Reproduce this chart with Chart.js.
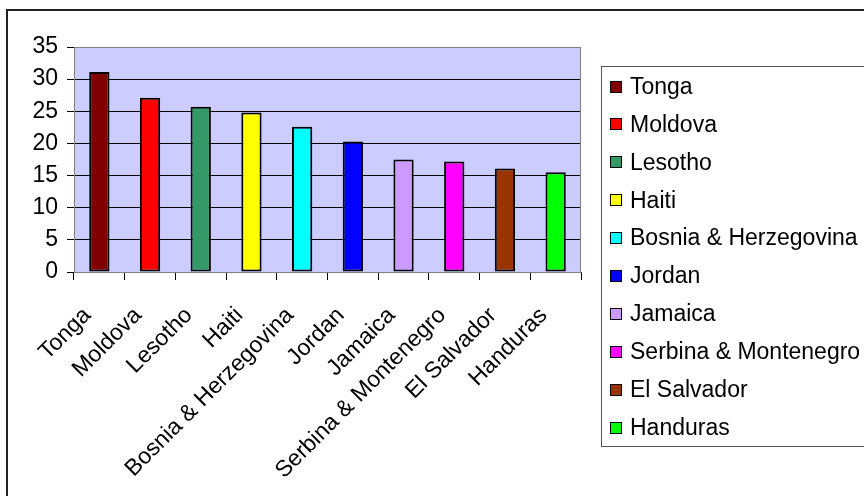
<!DOCTYPE html>
<html>
<head>
<meta charset="utf-8">
<script src="https://cdn.jsdelivr.net/npm/chart.js@4/dist/chart.umd.min.js"></script>
<style>
  html, body { margin: 0; padding: 0; background: #ffffff; }
  #wrap { width: 864px; height: 496px; position: relative; }
</style>
</head>
<body>
<div id="wrap"><canvas id="chart" width="864" height="496"></canvas></div>
<script>
// Countries and their values
const categories = ['Tonga', 'Moldova', 'Lesotho', 'Haiti', 'Bosnia & Herzegovina',
  'Jordan', 'Jamaica', 'Serbina & Montenegro', 'El Salvador', 'Handuras'];
const values = [31.1, 27.1, 25.7, 24.8, 22.6, 20.3, 17.5, 17.2, 16.1, 15.5];
const barColors = ['#800000', '#FF0000', '#339966', '#FFFF00', '#00FFFF',
  '#0000FF', '#CC99FF', '#FF00FF', '#993300', '#00FF00'];
const yTicks = [0, 5, 10, 15, 20, 25, 30, 35];

const FONT = "'Liberation Sans', Arial, sans-serif";
const FONT_SIZE = 23;

// Plot background, plot border, outer frame and the category legend
const decorations = {
  id: 'decorations',
  beforeDraw(chart) {
    const { ctx, chartArea: a } = chart;
    ctx.save();
    ctx.fillStyle = '#ffffff';
    ctx.fillRect(0, 0, chart.width, chart.height);
    ctx.fillStyle = '#CCCCFF';
    ctx.fillRect(a.left, a.top, a.right - a.left, a.bottom - a.top);
    ctx.restore();
  },
  afterDraw(chart) {
    const { ctx, chartArea: a } = chart;
    ctx.save();
    // plot area border
    ctx.strokeStyle = '#808080';
    ctx.lineWidth = 1;
    ctx.strokeRect(a.left + 0.5, a.top + 0.5, a.right - a.left - 1, a.bottom - a.top);
    // outer chart frame
    ctx.strokeStyle = '#222222';
    ctx.lineWidth = 2;
    ctx.strokeRect(7, 10, 900, 600);
    // legend box
    ctx.strokeStyle = '#555555';
    ctx.lineWidth = 1;
    ctx.strokeRect(601.5, 66.5, 300, 380);
    ctx.font = FONT_SIZE + 'px ' + FONT;
    ctx.textBaseline = 'middle';
    ctx.textAlign = 'left';
    categories.forEach((name, i) => {
      const cy = 86.5 + i * 37.9;
      ctx.fillStyle = barColors[i];
      ctx.fillRect(610, Math.round(cy - 6), 12, 12);
      ctx.strokeStyle = '#000000';
      ctx.strokeRect(610.5, Math.round(cy - 6) + 0.5, 11, 11);
      ctx.fillStyle = '#000000';
      ctx.fillText(name, 630, cy + 1);
    });
    ctx.restore();
  }
};

new Chart(document.getElementById('chart'), {
  type: 'bar',
  data: {
    labels: categories,
    datasets: [{
      data: values,
      backgroundColor: barColors,
      borderColor: '#000000',
      borderWidth: 2,
      borderSkipped: false,
      barPercentage: 0.4,
      categoryPercentage: 1.0
    }]
  },
  options: {
    responsive: false,
    animation: false,
    devicePixelRatio: 1,
    layout: { padding: { top: 47, right: 283, left: 0, bottom: 0 } },
    plugins: {
      legend: { display: false },
      tooltip: { enabled: false }
    },
    scales: {
      x: {
        offset: true,
        grid: { drawOnChartArea: false, drawTicks: true, tickLength: 8, color: '#000000', offset: true },
        border: { color: '#404040', width: 1 },
        ticks: {
          color: '#000000',
          font: { family: FONT, size: FONT_SIZE },
          minRotation: 45,
          maxRotation: 45,
          autoSkip: false,
          padding: 22,
          labelOffset: -12
        },
        afterFit(scale) { scale.height = 224; }
      },
      y: {
        min: 0,
        max: 35,
        afterBuildTicks(scale) { scale.ticks = yTicks.map(v => ({ value: v })); },
        grid: { color: '#000000', lineWidth: 1, tickLength: 7 },
        border: { color: '#808080', width: 1 },
        ticks: {
          color: '#000000',
          font: { family: FONT, size: FONT_SIZE },
          padding: 9
        },
        afterFit(scale) { scale.width = 74; }
      }
    }
  },
  plugins: [decorations]
});
</script>
</body>
</html>
